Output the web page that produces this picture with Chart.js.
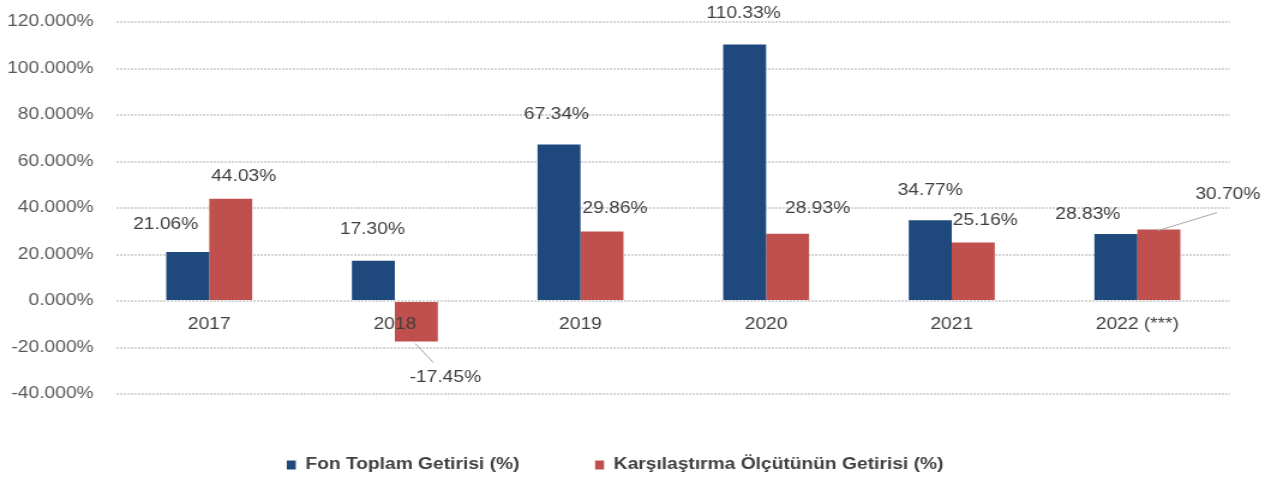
<!DOCTYPE html>
<html>
<head>
<meta charset="utf-8">
<script src="https://cdn.jsdelivr.net/npm/chart.js@4"></script>
<style>
  html, body { margin: 0; padding: 0; background: #fff; }
  #c { display: block; }
</style>
</head>
<body>
<canvas id="c" width="1054" height="481" style="width:1265px;height:481px"></canvas>
<script>
// ===== Fon getirisi vs karşılaştırma ölçütü =====
const years = ['2017', '2018', '2019', '2020', '2021', '2022 (***)']
const fundReturns = [21.06, 17.30, 67.34, 110.33, 34.77, 28.83]
const benchReturns = [44.03, -17.45, 29.86, 28.93, 25.16, 30.70]
const yTicks = [-40, -20, 0, 20, 40, 60, 80, 100, 120]

// the reference is a horizontally stretched picture, so the canvas is too
const STRETCH = 1265 / 1054
const FONT = "'Liberation Sans', Arial, sans-serif"

// label placement (screen px, relative to the bar end) - hand moved in the original
const labelOffsets = [
  [[-22, -27], [-1, -31], [-2.5, -30], [-1, -31], [0, -30], [-28, -19]],
  [[13, -22], [29, 36], [13, -23], [30, -25], [12, -22], [69, -35]]
]
// leader lines: [datasetIndex, index, from, to]
const leaders = [
  [1, 1, [-1, 2], [17, 21]],
  [1, 5, [-1, 1], [58, -17]]
]

const dataLabels = {
  id: 'dataLabels',
  afterDatasetsDraw(chart) {
    const ctx = chart.ctx
    ctx.save()
    ctx.strokeStyle = '#a6a6a6'
    ctx.lineWidth = 1
    leaders.forEach(([d, i, a, b]) => {
      const el = chart.getDatasetMeta(d).data[i]
      ctx.beginPath()
      ctx.moveTo(el.x + a[0] / STRETCH, el.y + a[1])
      ctx.lineTo(el.x + b[0] / STRETCH, el.y + b[1])
      ctx.stroke()
    })
    ctx.font = '16px ' + FONT
    ctx.fillStyle = '#404040'
    ctx.textAlign = 'center'
    ctx.textBaseline = 'middle'
    chart.data.datasets.forEach((ds, d) => {
      chart.getDatasetMeta(d).data.forEach((el, i) => {
        const [dx, dy] = labelOffsets[d][i]
        ctx.fillText(ds.data[i].toFixed(2) + '%', el.x + dx / STRETCH, el.y + dy)
      })
    })
    ctx.restore()
  }
}

new Chart(document.getElementById('c'), {
  type: 'bar',
  data: {
    labels: years,
    datasets: [
      {
        label: 'Fon Toplam Getirisi (%)',
        data: fundReturns,
        backgroundColor: '#1F497D',
        borderWidth: 0
      },
      {
        label: 'Karşılaştırma Ölçütünün Getirisi (%)',
        data: benchReturns,
        backgroundColor: '#C0504D',
        borderWidth: 0
      }
    ]
  },
  options: {
    responsive: false,
    devicePixelRatio: 1,
    animation: false,
    layout: { padding: { top: 22, right: 29, bottom: -2, left: 0 } },
    datasets: { bar: { barPercentage: 1, categoryPercentage: 0.463 } },
    plugins: {
      tooltip: { enabled: false },
      legend: {
        position: 'bottom',
        labels: {
          color: '#404040',
          font: { family: FONT, size: 16, weight: 'bold' },
          boxWidth: 7.5,
          boxHeight: 9,
          padding: 63
        }
      }
    },
    scales: {
      x: {
        position: { y: 0 },
        afterFit: scale => { scale.paddingTop = 0; scale.paddingBottom = 0 },
        grid: { display: false, drawTicks: false },
        border: { display: false },
        ticks: { z: 1, color: '#404040', font: { family: FONT, size: 16 }, padding: 14 }
      },
      y: {
        min: yTicks[0],
        max: yTicks[yTicks.length - 1],
        afterBuildTicks: scale => { scale.ticks = yTicks.map(v => ({ value: v })) },
        afterFit: scale => { scale.width = 97; scale.paddingTop = 0; scale.paddingBottom = 0 },
        grid: { color: '#d6d6d6', lineWidth: 2, drawTicks: false },
        border: { display: false, dash: [2, 1] },
        ticks: {
          color: '#595959',
          font: { family: FONT, size: 16 },
          padding: 19,
          callback: v => v.toFixed(3) + '%'
        }
      }
    }
  },
  plugins: [dataLabels]
})
</script>
</body>
</html>
